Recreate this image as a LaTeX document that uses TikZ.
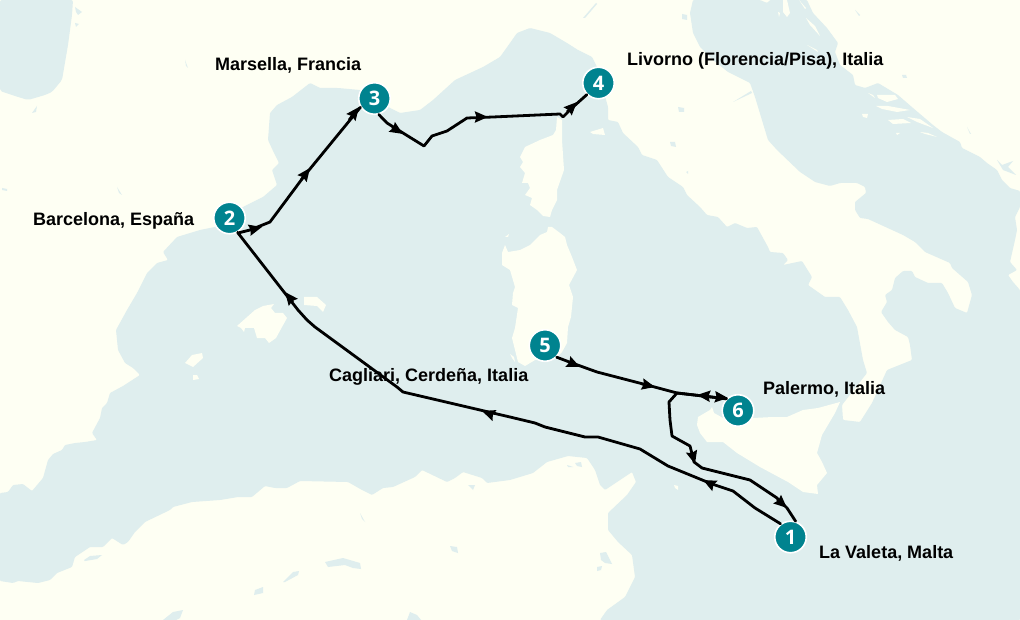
\documentclass[tikz,border=0pt]{standalone}
\usepackage{fontspec}
\setmainfont{Liberation Sans}
\newfontfamily\numfont{Open Sans}
\usetikzlibrary{arrows.meta}
\definecolor{seacol}{RGB}{223,238,238}
\definecolor{landcol}{RGB}{254,255,243}
\definecolor{tealcol}{RGB}{0,131,143}
\tikzset{
  sea/.style={fill=seacol},
  land/.style={fill=landcol},
  route/.style={draw=black,line width=2.8pt,line join=round,line cap=round},
  tipseg/.style={draw=black,line width=2.6pt,-{Stealth[length=13pt,width=11pt,inset=1.5pt]}},
  stop/.style={circle,fill=tealcol,draw=white,line width=1.6pt,minimum size=31.5pt,inner sep=0pt,text=white,font=\numfont\bfseries\fontsize{20}{20}\selectfont},
  place/.style={anchor=base west,text=black,inner sep=0pt,font=\bfseries\fontsize{18}{18}\selectfont},
}
\begin{document}
\begin{tikzpicture}[x=1pt,y=-1pt]
\useasboundingbox (0,0) rectangle (1020,620);
\fill[land] (0,0) rectangle (1020,620);
% Bay of Biscay
\fill[sea,rounded corners=2pt] (0,0)--(73,0)--(72,15)--(68,45)--(62,80)--(52,92)--(45,95)--(28,100)--(15,96)--(0,91)--cycle;
\fill[sea] (75,7)--(82,12)--(78,15)--(76,12)--cycle;
\fill[sea] (75,23)--(79,24)--(76,27)--cycle;
% Mediterranean
\fill[sea,rounded corners=1pt] (0,493)--(8,492)--(13,485)--(23,484)--(32,491)--(43,478)--(48,460)--(53,454)--(62,450)--(65,445)--(75,443)--(85,442)--(97,440)--(92,433)--(100,418)--(102,408)--(107,403)--(110,393)--(123,386)--(140,375)--(133,368)--(125,363)--(118,350)--(116,330)--(127,310)--(137,293)--(147,273)--(157,263)--(168,260)--(163,252)--(177,237)--(200,230)--(215,227)--(243,207)--(263,197)--(277,185)--(272,170)--(279,163)--(274,153)--(268,140)--(270,113)--(277,105)--(292,97)--(310,83)--(320,88)--(338,88)--(360,90)--(388,107)--(400,113)--(420,110)--(433,100)--(455,80)--(483,67)--(500,57)--(510,43)--(517,33)--(530,28)--(550,33)--(567,43)--(578,50)--(592,57)--(597,67)--(608,107)--(608,120)--(618,122)--(623,133)--(638,147)--(642,155)--(657,160)--(668,177)--(683,187)--(687,195)--(700,207)--(707,215)--(718,217)--(727,227)--(735,223)--(747,228)--(757,227)--(768,247)--(770,252)--(783,253)--(788,260)--(783,265)--(802,261)--(812,277)--(808,285)--(825,297)--(840,297)--(848,310)--(857,327)--(863,360)--(867,373)--(842,405)--(843,420)--(860,422)--(872,403)--(887,370)--(912,360)--(910,345)--(908,337)--(895,330)--(888,322)--(881,312)--(887,302)--(885,295)--(892,290)--(895,278)--(903,271)--(912,271)--(915,277)--(928,283)--(942,283)--(948,293)--(955,308)--(967,313)--(972,295)--(968,282)--(952,268)--(950,263)--(925,252)--(915,242)--(903,235)--(868,219)--(860,218)--(855,210)--(855,202)--(866,193)--(865,187)--(857,183)--(840,183)--(830,186)--(815,182)--(800,172)--(777,150)--(768,140)--(755,97)--(750,83)--(728,72)--(713,60)--(700,47)--(693,33)--(690,13)--(693,0)--(760,0)--(767,3)--(770,0)--(807,0)--(813,13)--(827,28)--(838,43)--(835,52)--(840,65)--(853,75)--(855,85)--(865,88)--(878,83)--(898,95)--(913,108)--(933,125)--(942,132)--(960,142)--(962,148)--(980,157)--(987,163)--(997,170)--(1002,180)--(1010,188)--(1020,191)--(1020,207)--(1015,217)--(1017,230)--(1015,240)--(1010,262)--(1017,270)--(1008,275)--(1013,282)--(1020,290)--(1020,620)--(600,620)--(607,610)--(625,597)--(635,577)--(632,555)--(618,542)--(608,530)--(608,513)--(627,495)--(636,482)--(632,472)--(605,490)--(600,485)--(595,470)--(587,458)--(568,456)--(547,462)--(533,473)--(510,480)--(487,483)--(482,478)--(463,472)--(455,478)--(447,482)--(422,470)--(415,477)--(393,487)--(383,488)--(372,495)--(362,490)--(348,482)--(300,481)--(287,488)--(275,488)--(265,486)--(252,497)--(238,497)--(220,500)--(192,502)--(173,507)--(170,510)--(145,522)--(135,532)--(128,542)--(123,545)--(112,538)--(103,547)--(90,547)--(75,557)--(72,567)--(57,573)--(50,580)--(38,583)--(18,581)--(13,583)--(0,581)--cycle;
% Islands
\fill[land] (237,326)--(255,310)--(263,306)--(274,304)--(271,308)--(275,313)--(283,313)--(287,318)--(282,327)--(276,338)--(269,343)--(265,338)--(257,338)--(254,328)--(245,328)--(244,332)--(241,328)--cycle;
\fill[land] (304,297)--(317,297)--(326,305)--(323,312)--(317,306)--(304,305)--cycle;
\fill[land] (185,363)--(192,355)--(202,353)--(203,358)--(193,367)--cycle;
\fill[land] (193,375)--(197,375)--(199,379)--(193,380)--cycle;
% Corsica
\fill[land] (557,117)--(562,120)--(562,140)--(564,170)--(557,190)--(557,200)--(552,210)--(550,217)--(543,216)--(537,210)--(530,205)--(532,198)--(525,195)--(530,188)--(528,183)--(522,183)--(525,173)--(520,167)--(523,162)--(520,157)--(525,147)--(540,140)--(553,135)--(556,130)--cycle;
\fill[land] (590,132)--(603,128)--(605,135)--(593,134)--cycle;
% Sardinia
\fill[land] (548,227)--(552,227)--(560,233)--(565,237)--(567,245)--(572,257)--(577,270)--(569,285)--(573,297)--(571,317)--(568,327)--(567,343)--(562,352)--(557,357)--(535,360)--(525,366)--(518,362)--(512,338)--(515,328)--(518,308)--(512,305)--(513,293)--(515,287)--(510,270)--(502,265)--(502,253)--(505,245)--(508,252)--(520,250)--(530,245)--(540,235)--(547,232)--cycle;
\fill[land] (510,354)--(514,357)--(515,362)--(512,358)--cycle;
\fill[land] (505,237)--(509,234)--(508,237)--cycle;
% Sicily
\fill[land] (698,417)--(710,410)--(712,407)--(714,413)--(723,418)--(753,418)--(773,417)--(787,417)--(803,410)--(818,408)--(840,402)--(835,413)--(822,435)--(817,453)--(822,462)--(827,473)--(817,485)--(818,494)--(803,492)--(788,482)--(760,467)--(737,453)--(723,442)--(707,442)--(700,433)--(697,425)--cycle;
\fill[land] (674,485)--(678,486)--(678,490)--(675,488)--cycle;
% Adriatic islands
\fill[land] (877,95)--(895,95)--(898,99)--(887,102)--(878,98)--cycle;
\fill[land] (876,106)--(888,106)--(910,110)--(897,112)--(882,109)--cycle;
\fill[land] (862,114)--(868,114)--(867,118)--(863,117)--cycle;
\fill[land] (888,120)--(903,119)--(911,123)--(893,124)--cycle;
\fill[land] (907,117)--(920,119)--(933,128)--(917,122)--cycle;
\fill[land] (920,132)--(928,133)--(937,137)--(925,134)--cycle;
\fill[land] (896,133)--(900,133)--(897,135)--cycle;
\fill[land] (868,93)--(873,95)--(875,98)--cycle;
\fill[land] (783,0)--(787,0)--(790,13)--(787,17)--(783,12)--cycle;
\fill[land] (799,0)--(806,8)--(805,9)--cycle;
\fill[land] (806,18)--(815,26)--(820,36)--(810,25)--cycle;
\fill[land] (807,45)--(817,50)--(818,52)--cycle;
\fill[land] (778,12)--(780,13)--(779,17)--cycle;
% Lakes and inland water
\fill[sea] (682,14)--(687,15)--(687,20)--(682,19)--cycle;
\fill[sea] (678,107)--(684,108)--(684,112)--(679,112)--cycle;
\fill[sea] (670,142)--(675,142)--(676,147)--(671,146)--cycle;
\fill[sea] (686,172)--(688,171)--(688,174)--cycle;
\fill[sea] (733,102)--(751,91)--(752,93)--cycle;
\fill[sea] (583,18)--(596,3)--(597,4)--(585,18)--cycle;
\fill[sea] (997,160)--(1002,165)--(1013,161)--(1008,167)--(1016,175)--(1003,170)--cycle;
\fill[sea] (902,75)--(906,75)--(907,78)--(903,78)--cycle;
\fill[sea] (967,127)--(971,134)--(970,134)--cycle;
\fill[sea] (855,10)--(860,15)--(859,16)--cycle;
\fill[sea] (32,113)--(37,106)--(36,112)--cycle;
\fill[sea] (185,60)--(188,68)--(186,66)--cycle;
\fill[sea] (117,187)--(122,195)--(119,193)--cycle;
\fill[sea] (2,188)--(7,189)--(7,191)--(2,190)--cycle;
\fill[sea] (84,560)--(90,556)--(102,555)--(97,559)--(85,561)--cycle;
\fill[sea] (325,562)--(343,558)--(360,563)--(361,569)--(353,568)--(345,565)--(328,567)--cycle;
\fill[sea] (283,582)--(293,572)--(299,571)--(298,575)--(285,582)--cycle;
\fill[sea] (255,590)--(263,587)--(263,593)--(254,595)--cycle;
\fill[sea] (163,620)--(173,612)--(183,610)--(180,618)--(176,620)--cycle;
\fill[sea] (407,620)--(410,612)--(417,615)--(421,620)--cycle;
\fill[sea] (468,485)--(475,485)--(473,490)--cycle;
\fill[sea] (450,546)--(457,547)--(458,553)--(452,551)--cycle;
\fill[sea] (360,513)--(365,522)--(362,519)--cycle;
\fill[sea] (567,465)--(573,467)--(568,467)--cycle;
\fill[sea] (575,463)--(581,462)--(582,467)--(577,466)--cycle;
\fill[sea] (600,553)--(606,552)--(609,558)--(612,564)--(605,563)--(601,560)--cycle;
\fill[sea] (597,567)--(602,566)--(601,570)--(597,571)--cycle;
\fill[sea] (638,603)--(643,601)--(641,604)--cycle;
% Stops
\node[stop] (n1) at (790.5,537) {1};
\node[stop] (n2) at (229.5,218) {2};
\node[stop] (n3) at (374.5,98.5) {3};
\node[stop] (n4) at (598.5,83) {4};
\node[stop] (n5) at (545,345.5) {5};
\node[stop] (n6) at (738,410.5) {6};
% Routes
\draw[route] (n1.127) -- (755,508) -- (733,491) -- (712,484) -- (668,466) -- (640,449) -- (598,437) -- (585,437) -- (545,427) -- (535,423) -- (510,417) -- (403,392) -- (397,387) -- (315,327) -- (307,320) -- (298,310) -- (238,233);
\draw[route] (n2.-60) -- (238,233) -- (250,230) -- (270,222) -- (305,175) -- (n3.212);
\draw[route] (n3.-75) -- (387,123) -- (403,133) -- (424,146) -- (432,136) -- (447,131) -- (467,118) -- (493,117) -- (560,114) -- (563,117) -- (573,107) -- (n4.225);
\draw[route] (n5.-45) -- (572,363) -- (597,372) -- (647,385) -- (677,393) -- (703,396) -- (n6.135);
\draw[route] (n6.135) -- (703,396) -- (677,393) -- (669,402) -- (670,420) -- (672,436) -- (690,446) -- (694,462) -- (702,468) -- (750,480) -- (777,498) -- (787,508) -- (n1.72);
% Direction tips
\draw[tipseg] (713,485) -- (703,480);
\draw[tipseg] (493,415) -- (482,411);
\draw[tipseg] (293,302) -- (285,292);
\draw[tipseg] (250,230) -- (262,227);
\draw[tipseg] (301,180) -- (310,168);
\draw[tipseg] (349,120) -- (359,107);
\draw[tipseg] (392,127) -- (403,134);
\draw[tipseg] (476,117) -- (488,117);
\draw[tipseg] (567,112) -- (577,102);
\draw[tipseg] (569,362) -- (580,367);
\draw[tipseg] (642,384) -- (655,387);
\draw[tipseg] (717,397) -- (728,398);
\draw[tipseg] (708,396) -- (697,395);
\draw[tipseg] (692,453) -- (695,464);
\draw[tipseg] (777,499) -- (787,508);
% Labels
\node[place] (l3) at (215,71) {Marsella, Francia};
\node[place] (l2) at (33,226) {Barcelona, España};
\node[place] (l4) at (627,66) {Livorno (Florencia/Pisa), Italia};
\node[place] (l5) at (329,381.3) {Cagliari, Cerdeña, Italia};
\node[place] (l6) at (763,394.3) {Palermo, Italia};
\node[place] (l1) at (819,558.3) {La Valeta, Malta};
\end{tikzpicture}
\end{document}
